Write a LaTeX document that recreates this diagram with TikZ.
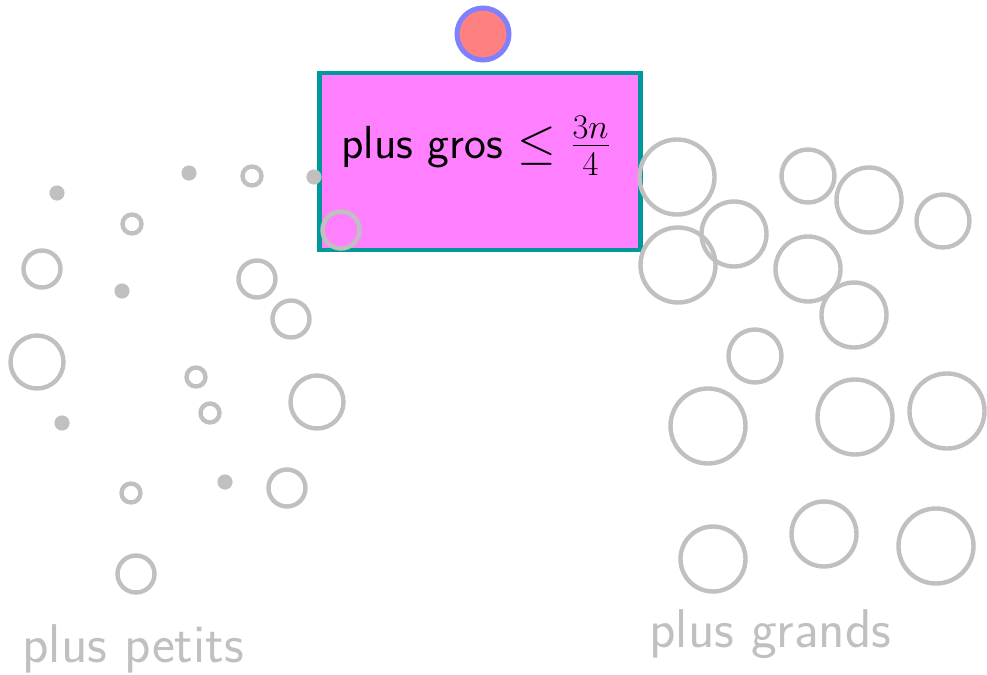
\documentclass[tikz,border=0pt]{standalone}
\usepackage{amsmath,amssymb}
\usepackage{xcolor}
\usepackage{tikz}
\definecolor{ringGray}{HTML}{C0C0C0}
\definecolor{boxTeal}{HTML}{009999}
\definecolor{boxPink}{HTML}{FF80FF}
\definecolor{pivRed}{HTML}{FF8080}
\definecolor{pivBlue}{HTML}{8080FF}

\begin{document}
\begin{tikzpicture}[
    x=0.5pt,y=-0.5pt,
    ring/.style={draw=ringGray,line width=2.2pt},
    dot/.style={fill=ringGray},
    bigbox/.style={draw=boxTeal,fill=boxPink,line width=2.3pt,rectangle,inner sep=0pt},
    pivot/.style={circle,draw=pivBlue,fill=pivRed,line width=2.5pt,minimum size=26pt,inner sep=0pt},
    side/.style={text=ringGray,font=\sffamily\fontsize{27.3}{32}\selectfont,anchor=base west,inner sep=0pt}
  ]
    \useasboundingbox (0,0) rectangle (987,675);
    % the box of the big ones
    \node[bigbox,minimum width=160.5pt,minimum height=88.5pt] (box) at (480,161.5) {};
    \node[anchor=base west,inner sep=0pt,font=\sffamily\fontsize{23.2}{28}\selectfont] (boxtext) at (341,158)
      {plus gros $\leq \frac{3n}{4}$};
    % small ones (left)
    \foreach \x/\y in {57/193,189/173,314/177,122/291,62/423,225/482}
      \fill[dot] (\x,\y) circle[radius=3.8pt];
    \foreach \x/\y/\r in {252/176/9.5,132/224/9.5,341/230/18.5,42/269/18.5,257/279/18.5,
        291/319/18.5,37/362/26.5,196/377/9.5,210/413/9.5,317/402/26.5,131/493/9.5,
        287/488/18.5,136/574/18.5}
      \draw[ring] (\x,\y) circle[radius=\r*0.5pt];
    % big ones (right)
    \foreach \x/\y/\r in {677/177/37.5,808/176/26.5,869/200/32.5,943/221/26.5,734/234/32.5,
        678/265/37.5,808/269/32.5,854/315/32.5,755/356/26.5,708/426/37.5,855/417/37.5,
        947/411/37.5,713/559/32.5,824/534/32.5,936/546/37.5}
      \draw[ring] (\x,\y) circle[radius=\r*0.5pt];
    \node[pivot] (piv) at (483,34) {};
    \node[side] (small) at (22,662) {plus petits};
    \node[side] (large) at (649,647) {plus grands};
  \end{tikzpicture}
\end{document}
